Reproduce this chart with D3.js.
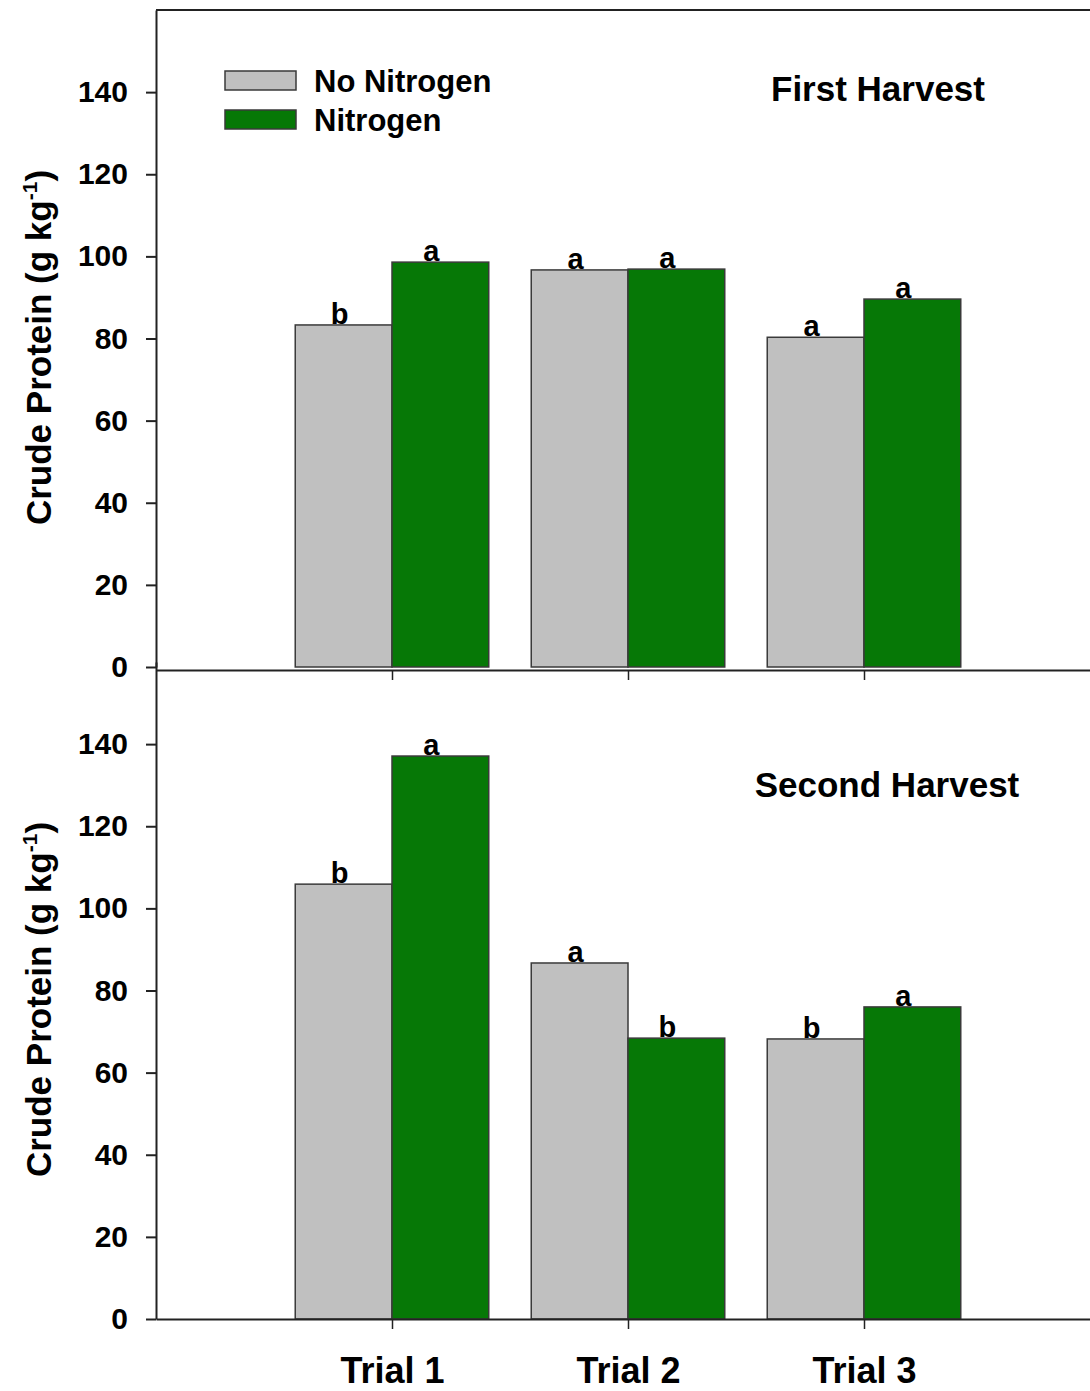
<!DOCTYPE html>
<html>
<head>
<meta charset="utf-8">
<script src="https://cdn.jsdelivr.net/npm/d3@7"></script>
<style>
  body { margin: 0; background: #fff; }
  text { font-family: "Liberation Sans", Arial, sans-serif; font-weight: bold; fill: #000; }
</style>
</head>
<body>
<div id="chart"></div>
<script>
// data
const trials = ["Trial 1", "Trial 2", "Trial 3"];
const series = ["No Nitrogen", "Nitrogen"];
const firstNoN = [83.3, 96.7, 80.3];
const firstN = [98.6, 96.9, 89.6];
const firstLetNoN = ["b", "a", "a"];
const firstLetN = ["a", "a", "a"];
const secondNoN = [105.9, 86.7, 68.2];
const secondN = [137.1, 68.4, 76.0];
const secondLetNoN = ["b", "a", "b"];
const secondLetN = ["a", "b", "a"];
const yTicks = [0, 20, 40, 60, 80, 100, 120, 140];

const colors = ["#c0c0c0", "#067806"];

const W = 1090, H = 1391;
const svg = d3.select("#chart").append("svg").attr("width", W).attr("height", H);

const xLeft = 156;
const x = d3.scaleLinear().domain([0, 4]).range([xLeft, 1100]);
const barW = 0.41; // in x units
const letShift = [-4, -9]; // letters sit a bit left of bar centre

function panel(top0, bottom0, noN, withN, letNoN, letN, title, titleX, titleY, drawLegend) {
  const y = d3.scaleLinear().domain([0, 160]).range([bottom0, top0]);
  const g = svg.append("g");

  // bars
  const rows = trials.map((t, i) => ({ i: i, vals: [noN[i], withN[i]], lets: [letNoN[i], letN[i]] }));
  rows.forEach(r => {
    r.vals.forEach((v, s) => {
      const x0 = s === 0 ? x(r.i + 1 - barW) : x(r.i + 1);
      const x1 = s === 0 ? x(r.i + 1) : x(r.i + 1 + barW);
      g.append("rect")
        .attr("x", x0).attr("y", y(v))
        .attr("width", x1 - x0).attr("height", y(0) - y(v))
        .attr("fill", colors[s])
        .attr("stroke", "#3a3a3a").attr("stroke-width", 1.5);
      g.append("text")
        .attr("x", (x0 + x1) / 2 + letShift[s]).attr("y", y(v) - 1)
        .attr("text-anchor", "middle")
        .style("font-size", "29px")
        .text(r.lets[s]);
    });
  });

  // y axis
  const yAxis = g.append("g")
    .attr("transform", "translate(" + xLeft + ",0)")
    .call(d3.axisLeft(y).tickValues(yTicks).tickSize(10).tickPadding(18).tickSizeOuter(0));
  yAxis.select(".domain").attr("stroke", "#222").attr("stroke-width", 2);
  yAxis.selectAll(".tick line").attr("stroke", "#222").attr("stroke-width", 2);
  yAxis.selectAll(".tick text")
    .style("font-family", "'Liberation Sans', Arial, sans-serif")
    .style("font-weight", "bold").style("font-size", "30px").attr("fill", "#000");

  // y label
  const lab = g.append("text")
    .attr("transform", "translate(51," + ((top0 + bottom0) / 2 + 9) + ") rotate(-90)")
    .attr("text-anchor", "middle")
    .style("font-size", "35px");
  lab.append("tspan").text("Crude Protein (g kg");
  lab.append("tspan").attr("dy", -14).style("font-size", "21px").text("-1");
  lab.append("tspan").attr("dy", 14).text(")");

  // title
  g.append("text").attr("x", titleX).attr("y", titleY)
    .attr("text-anchor", "middle").style("font-size", "35px").text(title);

  if (drawLegend) {
    series.forEach((s, k) => {
      g.append("rect").attr("x", 225).attr("y", 71 + k * 39)
        .attr("width", 71).attr("height", 19)
        .attr("fill", colors[k]).attr("stroke", "#3a3a3a").attr("stroke-width", 1.5);
      g.append("text").attr("x", 314).attr("y", 92 + k * 39)
        .style("font-size", "31px").text(s);
    });
  }
  return y;
}

// top panel
panel(10, 667, firstNoN, firstN, firstLetNoN, firstLetN, "First Harvest", 878, 101, true);
// frame line on top
svg.append("line").attr("x1", xLeft).attr("x2", W).attr("y1", 10).attr("y2", 10)
  .attr("stroke", "#222").attr("stroke-width", 2);

// bottom panel
panel(662, 1319, secondNoN, secondN, secondLetNoN, secondLetN, "Second Harvest", 887, 797, false);

// x axes (shared line between panels and bottom axis)
function xAxisAt(yPos, labels) {
  const ax = svg.append("g")
    .attr("transform", "translate(0," + yPos + ")")
    .call(d3.axisBottom(x).tickValues([1, 2, 3]).tickSize(10).tickSizeOuter(0)
      .tickFormat(d => labels ? trials[d - 1] : ""));
  ax.select(".domain").attr("stroke", "#222").attr("stroke-width", 2);
  ax.selectAll(".tick line").attr("stroke", "#222").attr("stroke-width", 1.5);
  ax.selectAll(".tick text")
    .style("font-family", "'Liberation Sans', Arial, sans-serif")
    .style("font-weight", "bold").style("font-size", "36px").attr("fill", "#000")
    .attr("dy", 0).attr("y", 64);
}
xAxisAt(670, false);
xAxisAt(1319, true);
</script>
</body>
</html>
